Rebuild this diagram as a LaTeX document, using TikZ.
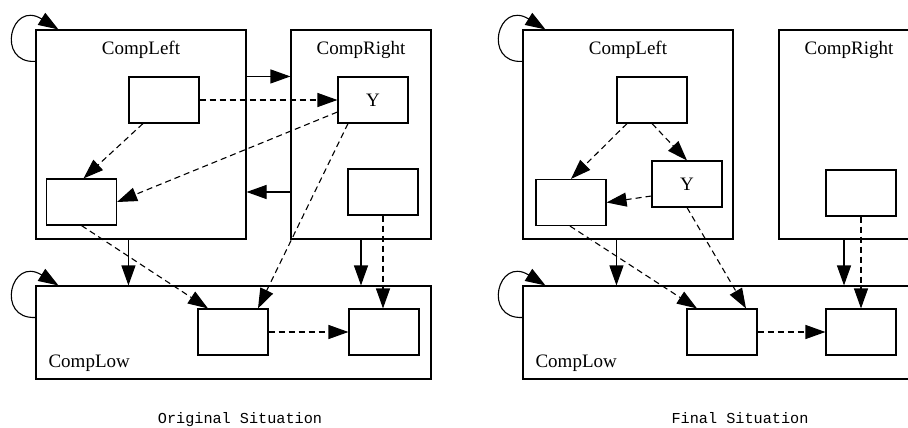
\documentclass[tikz,border=0pt]{standalone}
\usepackage{fontspec}
\setmainfont{Liberation Serif}
\setmonofont{Liberation Mono}
\usetikzlibrary{arrows.meta,calc}
\begin{document}
\begin{tikzpicture}[x=1pt,y=-1pt,
  line width=1.1pt,
  box/.style={draw, minimum width=70pt, minimum height=46pt, inner sep=0pt, fill=white},
  comp/.style={draw, inner sep=0pt},
  arr/.style={-{Triangle[length=20pt,width=14pt]}},
  dsh/.style={arr, dash pattern=on 6pt off 4pt},
  lbl/.style={font=\fontsize{19}{22}\selectfont, inner sep=0pt},
  captext/.style={font=\ttfamily\fontsize{15.2}{18}\selectfont, inner sep=0pt, anchor=base}
]
\useasboundingbox (0,0) rectangle (908,428);
\clip (0,0) rectangle (908,428);

% ---------------- left panel ----------------
\node[comp, minimum width=210pt, minimum height=209pt] (cL) at (141,134.5) {};
\node[comp, minimum width=140pt, minimum height=209pt] (cR) at (361,134.5) {};
\node[comp, minimum width=395pt, minimum height=93pt] (cLow) at (233.5,332.5) {};
\node[lbl, anchor=base] (lcL) at (141,55) {CompLeft};
\node[lbl, anchor=base] (lcR) at (361,55) {CompRight};
\node[lbl, anchor=base west] (lcLow) at (48,367) {CompLow};

\node[box] (tL) at (164,100) {};
\node[box] (llL) at (81.5,202) {};
\node[box, lbl, minimum width=70pt, minimum height=46pt] (yL) at (373,100) {Y};
\node[box] (rbL) at (383,192) {};
\node[box] (lbL) at (233,332) {};
\node[box] (rlL) at (384,332) {};

\draw[arr] ([yshift=-32pt]cL.north west) .. controls +(-40,2) and +(-48,-30) .. ([xshift=23pt]cL.north west);
\draw[arr] ([yshift=-32pt]cLow.north west) .. controls +(-40,2) and +(-48,-30) .. ([xshift=23pt]cLow.north west);

\draw[arr] (cL.east |- yL.north) -- (cR.west |- yL.north);
\draw[arr] (cR.west |- rbL.center) -- (cL.east |- rbL.center);
\draw[arr] (cL.south -| tL.west) -- (cLow.north -| tL.west);
\draw[arr] (cR.south) -- (cR.south |- cLow.north);

\draw[dsh] (tL.east) -- (yL.west);
\draw[dsh] ([xshift=-21pt]tL.south) -- ([xshift=2pt]llL.north);
\draw[dsh] ([yshift=-12pt]yL.west) -- (llL.east);
\draw[dsh] ([xshift=-25pt]yL.south) -- ([xshift=25pt]lbL.north);
\draw[dsh] (llL.south) -- ([xshift=-25pt]lbL.north);
\draw[dsh] (lbL.east) -- (rlL.west);
\draw[dsh] (rbL.south) -- (rbL.south |- rlL.north);

% ---------------- right panel ----------------
\node[comp, minimum width=210pt, minimum height=209pt] (cL2) at (628,134.5) {};
\node[comp, minimum width=139pt, minimum height=209pt] (cR2) at (848.5,134.5) {};
\node[comp, minimum width=395pt, minimum height=93pt] (cLow2) at (720.5,332.5) {};
\node[lbl, anchor=base] (lcL2) at (628,55) {CompLeft};
\node[lbl, anchor=base] (lcR2) at (849,55) {CompRight};
\node[lbl, anchor=base west] (lcLow2) at (535,367) {CompLow};

\node[box] (tR) at (652,100) {};
\node[box] (llR) at (571,202.5) {};
\node[box, lbl, minimum width=70pt, minimum height=46pt] (yR) at (687,184) {Y};
\node[box] (rbR) at (861,193) {};
\node[box] (lbR) at (722,332) {};
\node[box] (rlR) at (861,332) {};

\draw[arr] ([yshift=-32pt]cL2.north west) .. controls +(-40,2) and +(-48,-30) .. ([xshift=23pt]cL2.north west);
\draw[arr] ([yshift=-32pt]cLow2.north west) .. controls +(-40,2) and +(-48,-30) .. ([xshift=23pt]cLow2.north west);

\draw[arr] (cL2.south -| tR.west) -- (cLow2.north -| tR.west);
\draw[arr] ([xshift=-4.5pt]cR2.south) -- ([xshift=-4.5pt]cR2.south |- cLow2.north);

\draw[dsh] (tR.south) -- (yR.north);
\draw[dsh] ([xshift=-25pt]tR.south) -- (llR.north);
\draw[dsh] ([yshift=-12pt]yR.west) -- (llR.east);
\draw[dsh] (yR.south) -- ([xshift=24pt]lbR.north);
\draw[dsh] ([xshift=-1pt]llR.south) -- ([xshift=-25pt]lbR.north);
\draw[dsh] (lbR.east) -- (rlR.west);
\draw[dsh] (rbR.south) -- (rbR.south |- rlR.north);

% ---------------- captions ----------------
\node[captext] (capL) at (240,423) {Original Situation};
\node[captext] (capR) at (740,423) {Final Situation};
\end{tikzpicture}
\end{document}
